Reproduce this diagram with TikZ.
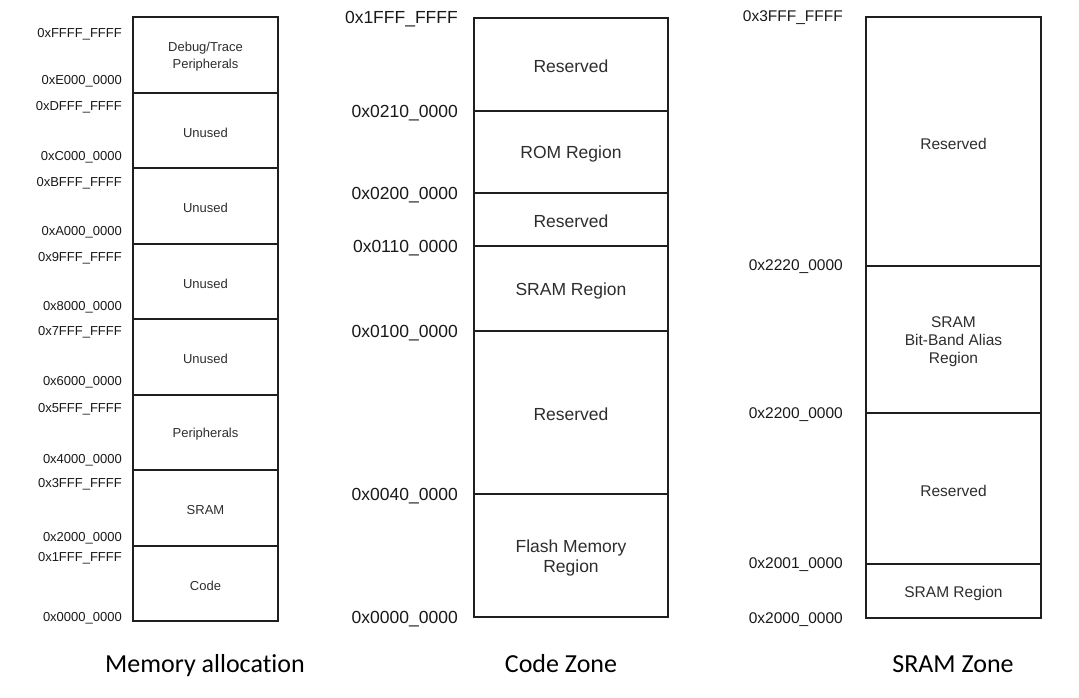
\documentclass[tikz,border=0pt]{standalone}
\usepackage{fontspec}
\setmainfont{Liberation Sans}
\newfontfamily\capfont[Ligatures=NoCommon]{Carlito}
\newcommand\mreg[7]{% name, x1, y1, x2, y2, style, text
  \node[region,minimum width={(#4)-(#2)},minimum height={(#5)-(#3)}] (#1) at ({((#2)+(#4))/2},{((#3)+(#5))/2}) {};
  \node[boxtext,#6] (#1t) at ([yshift=-2pt]#1.center) {#7};}
\begin{document}
\begin{tikzpicture}[x=1pt,y=-1pt,
  region/.style={draw=black!88,line width=2.4pt,inner sep=0pt},
  boxtext/.style={inner sep=0pt,align=center,text=black!82},
  smallreg/.style={font=\fontsize{13}{17}\selectfont},
  midreg/.style={font=\fontsize{17.5}{20}\selectfont},
  rightreg/.style={font=\fontsize{15.5}{18}\selectfont},
  lbl/.style={anchor=east,inner sep=0pt,text=black!90,text depth=0pt},
  lblS/.style={lbl,text height=9.3pt,font=\fontsize{13}{15}\selectfont},
  lblM/.style={lbl,text height=12.5pt,font=\fontsize{17.5}{20}\selectfont},
  lblR/.style={lbl,text height=11.1pt,font=\fontsize{15.5}{18}\selectfont},
  captext/.style={anchor=base,inner sep=0pt,font=\capfont\fontsize{26}{30}\selectfont}]
\useasboundingbox (0,0) rectangle (1079,698);
\fill[white] (0,0) rectangle (1079,698);

% ---------------- Memory allocation ----------------
\mreg{a1}{133}{17}{278}{93}{smallreg}{Debug/Trace\\Peripherals}
\mreg{a2}{133}{93}{278}{168}{smallreg}{Unused}
\mreg{a3}{133}{168}{278}{244}{smallreg}{Unused}
\mreg{a4}{133}{244}{278}{319}{smallreg}{Unused}
\mreg{a5}{133}{319}{278}{395}{smallreg}{Unused}
\mreg{a6}{133}{395}{278}{470}{smallreg}{Peripherals}
\mreg{a7}{133}{470}{278}{546}{smallreg}{SRAM}
\mreg{a8}{133}{546}{278}{621}{smallreg}{Code}

\node[lblS] (la1) at (122,33) {0xFFFF\_FFFF};
\node[lblS] (la2) at (122,80) {0xE000\_0000};
\node[lblS] (la3) at (122,106) {0xDFFF\_FFFF};
\node[lblS] (la4) at (122,156) {0xC000\_0000};
\node[lblS] (la5) at (122,182) {0xBFFF\_FFFF};
\node[lblS] (la6) at (122,231) {0xA000\_0000};
\node[lblS] (la7) at (122,257) {0x9FFF\_FFFF};
\node[lblS] (la8) at (122,306) {0x8000\_0000};
\node[lblS] (la9) at (122,331) {0x7FFF\_FFFF};
\node[lblS] (la10) at (122,381) {0x6000\_0000};
\node[lblS] (la11) at (122,408) {0x5FFF\_FFFF};
\node[lblS] (la12) at (122,459) {0x4000\_0000};
\node[lblS] (la13) at (122,483) {0x3FFF\_FFFF};
\node[lblS] (la14) at (122,537) {0x2000\_0000};
\node[lblS] (la15) at (122,557) {0x1FFF\_FFFF};
\node[lblS] (la16) at (122,617) {0x0000\_0000};

\node[captext] (ca) at (205,672) {Memory allocation};

% ---------------- Code Zone ----------------
\mreg{b1}{474}{18}{668}{111}{midreg}{Reserved}
\mreg{b2}{474}{111}{668}{193}{midreg}{ROM Region}
\mreg{b3}{474}{193}{668}{246}{midreg}{Reserved}
\mreg{b4}{474}{246}{668}{331}{midreg}{SRAM Region}
\mreg{b5}{474}{331}{668}{494}{midreg}{Reserved}
\mreg{b6}{474}{494}{668}{617}{midreg}{Flash Memory\\Region}

\node[lblM] (lb1) at (458,17) {0x1FFF\_FFFF};
\node[lblM] (lb2) at (458,111) {0x0210\_0000};
\node[lblM] (lb3) at (458,193) {0x0200\_0000};
\node[lblM] (lb4) at (458,246) {0x0110\_0000};
\node[lblM] (lb5) at (458,331) {0x0100\_0000};
\node[lblM] (lb6) at (458,494) {0x0040\_0000};
\node[lblM] (lb7) at (458,617) {0x0000\_0000};

\node[captext] (cb) at (561,672) {Code Zone};

% ---------------- SRAM Zone ----------------
\mreg{c1}{866}{17}{1041}{266}{rightreg}{Reserved}
\mreg{c2}{866}{266}{1041}{413}{rightreg}{SRAM\\Bit-Band Alias\\Region}
\mreg{c3}{866}{413}{1041}{564}{rightreg}{Reserved}
\mreg{c4}{866}{564}{1041}{618}{rightreg}{SRAM Region}

\node[lblR] (lc1) at (843,16) {0x3FFF\_FFFF};
\node[lblR] (lc2) at (843,265) {0x2220\_0000};
\node[lblR] (lc3) at (843,413) {0x2200\_0000};
\node[lblR] (lc4) at (843,563) {0x2001\_0000};
\node[lblR] (lc5) at (843,618) {0x2000\_0000};

\node[captext] (cc) at (953,672) {SRAM Zone};
\end{tikzpicture}
\end{document}
